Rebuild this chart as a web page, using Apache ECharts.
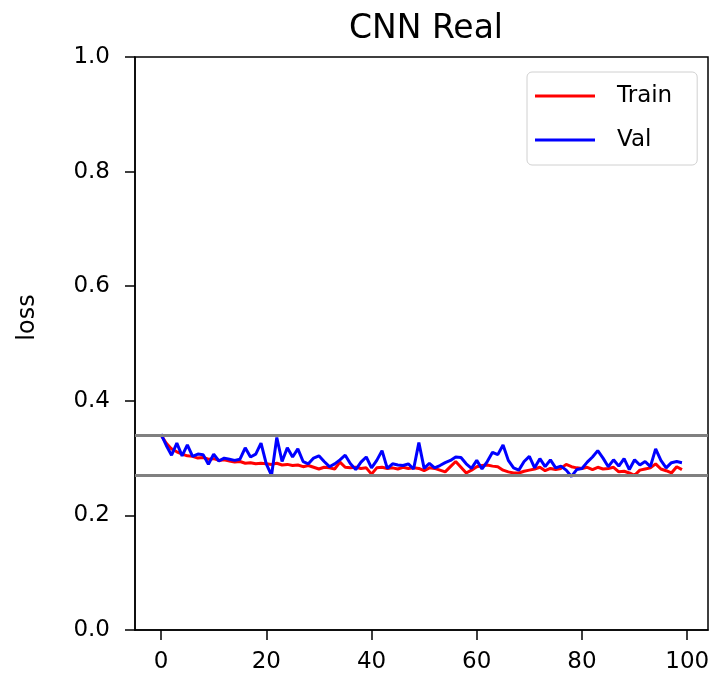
<!DOCTYPE html>
<html>
<head>
<meta charset="utf-8">
<script src="https://cdn.jsdelivr.net/npm/echarts@6/dist/echarts.min.js"></script>
<style>
  html, body { margin: 0; padding: 0; background: #fff; }
  #chart { width: 717px; height: 677px; }
</style>
</head>
<body>
<div id="chart"></div>
<script>
// 数据
var epochs = [];
for (var i = 0; i < 100; i++) epochs.push(i);

var trainLoss = [
  0.340, 0.326, 0.316, 0.311, 0.307, 0.304, 0.303, 0.300, 0.301, 0.298,
  0.299, 0.296, 0.297, 0.295, 0.293, 0.294, 0.291, 0.292, 0.290, 0.291,
  0.290, 0.289, 0.291, 0.288, 0.289, 0.287, 0.288, 0.285, 0.287, 0.284,
  0.281, 0.284, 0.283, 0.281, 0.293, 0.284, 0.283, 0.284, 0.282, 0.283,
  0.272, 0.283, 0.284, 0.282, 0.283, 0.281, 0.284, 0.282, 0.283, 0.282,
  0.278, 0.283, 0.282, 0.279, 0.276, 0.285, 0.294, 0.284, 0.274, 0.279,
  0.285, 0.287, 0.288, 0.286, 0.285, 0.279, 0.276, 0.274, 0.274, 0.277,
  0.279, 0.281, 0.284, 0.278, 0.282, 0.280, 0.282, 0.289, 0.285, 0.283,
  0.282, 0.284, 0.280, 0.284, 0.281, 0.282, 0.284, 0.276, 0.277, 0.274,
  0.270, 0.279, 0.281, 0.283, 0.290, 0.281, 0.278, 0.274, 0.285, 0.280
];

var valLoss = [
  0.342, 0.322, 0.305, 0.326, 0.304, 0.323, 0.303, 0.307, 0.306, 0.289,
  0.307, 0.295, 0.300, 0.298, 0.296, 0.298, 0.318, 0.302, 0.307, 0.326,
  0.290, 0.270, 0.336, 0.294, 0.318, 0.302, 0.316, 0.294, 0.290, 0.300,
  0.304, 0.294, 0.285, 0.290, 0.297, 0.305, 0.290, 0.280, 0.293, 0.302,
  0.283, 0.296, 0.313, 0.282, 0.290, 0.288, 0.287, 0.290, 0.281, 0.327,
  0.282, 0.291, 0.283, 0.287, 0.292, 0.296, 0.302, 0.301, 0.290, 0.282,
  0.296, 0.281, 0.294, 0.310, 0.306, 0.323, 0.296, 0.283, 0.279, 0.294,
  0.303, 0.283, 0.299, 0.285, 0.297, 0.283, 0.286, 0.279, 0.268, 0.280,
  0.282, 0.293, 0.302, 0.313, 0.300, 0.285, 0.297, 0.286, 0.299, 0.280,
  0.297, 0.288, 0.294, 0.285, 0.316, 0.296, 0.283, 0.292, 0.294, 0.292
];

// 两条灰色参考线
var refLines = [0.338, 0.267];

var xTicks = [0, 20, 40, 60, 80, 100];

function pairs(ys) {
  return ys.map(function (v, i) { return [epochs[i], v]; });
}

var chart = echarts.init(document.getElementById('chart'));
var font = 'DejaVu Sans';

var option = {
  animation: false,
  title: {
    text: 'CNN Real',
    left: 421,
    top: 8,
    textAlign: 'center',
    textStyle: { fontFamily: font, fontSize: 33, fontWeight: 'normal', color: '#000' }
  },
  grid: {
    left: 135,
    right: 9,
    top: 57,
    bottom: 47,
    show: true,
    borderColor: '#000',
    borderWidth: 1.5
  },
  legend: {
    data: ['Train', 'Val'],
    orient: 'vertical',
    left: 527,
    top: 72,
    padding: [12, 25, 13, 8],
    itemGap: 20,
    itemWidth: 60,
    itemHeight: 3,
    icon: 'rect',
    borderColor: '#d0d0d0',
    borderWidth: 1,
    borderRadius: 5,
    textStyle: { fontFamily: font, fontSize: 23, color: '#000', lineHeight: 24, padding: [0, 0, 0, 17] }
  },
  xAxis: {
    type: 'value',
    min: -4.95,
    max: 103.95,
    axisLine: { show: true, lineStyle: { color: '#000', width: 1.5 } },
    axisTick: { show: true, length: 10, lineStyle: { color: '#000', width: 1.5 }, customValues: xTicks },
    axisLabel: { fontFamily: font, fontSize: 23, color: '#000', margin: 21, customValues: xTicks },
    splitLine: { show: false }
  },
  yAxis: {
    type: 'value',
    min: 0,
    max: 1,
    interval: 0.2,
    name: 'loss',
    nameLocation: 'middle',
    nameGap: 95,
    nameTextStyle: { fontFamily: font, fontSize: 24, color: '#000', padding: [0, 0, 0, 52] },
    axisLine: { show: true, onZero: false, lineStyle: { color: '#000', width: 1.5 } },
    axisTick: { show: true, length: 10, lineStyle: { color: '#000', width: 1.5 } },
    axisLabel: {
      fontFamily: font, fontSize: 23, color: '#000', margin: 25,
      formatter: function (v) { return v.toFixed(1); }
    },
    splitLine: { show: false }
  },
  series: [
    {
      name: 'Train',
      type: 'line',
      data: pairs(trainLoss),
      symbol: 'none',
      color: '#ff0000',
      lineStyle: { width: 3 },
      z: 3
    },
    {
      name: 'Val',
      type: 'line',
      data: pairs(valLoss),
      symbol: 'none',
      color: '#0000ff',
      lineStyle: { width: 3 },
      z: 4,
      markLine: {
        silent: true,
        symbol: 'none',
        label: { show: false },
        lineStyle: { color: '#808080', width: 3, type: 'solid' },
        data: refLines.map(function (v) { return { yAxis: v }; })
      }
    }
  ]
};

chart.setOption(option);
window.addEventListener('resize', function () {
  chart.resize();
});
</script>
</body>
</html>
